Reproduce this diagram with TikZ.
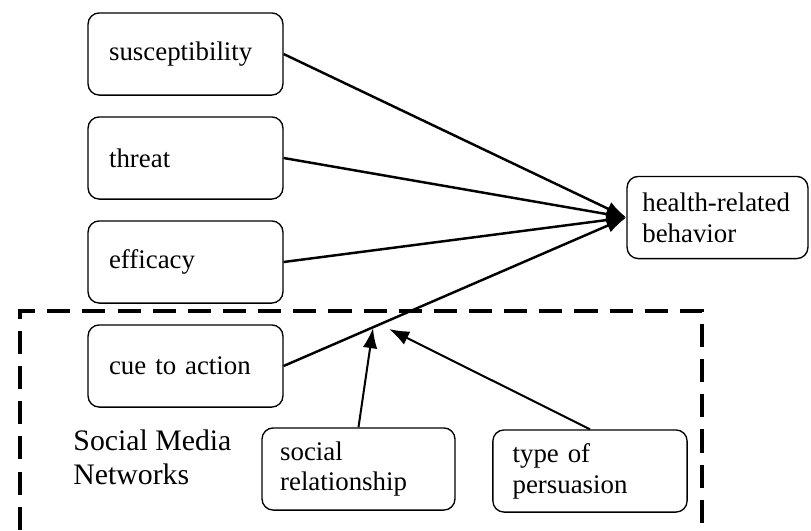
\documentclass[tikz,border=0pt]{standalone}
\usepackage{fontspec}
\setmainfont{Liberation Serif}
\usetikzlibrary{arrows.meta}

\begin{document}
\begin{tikzpicture}[x=0.0157cm,y=-0.0157cm,
box/.style={draw,rounded corners=5pt,line width=0.6pt,minimum height=1.29cm,text width=2.4cm,inner xsep=0.33cm,align=left,font=\fontsize{12}{13.8}\selectfont},
link/.style={line width=1.1pt,-{Latex[length=9pt,width=6.5pt]}}]
\clip (0,0) rectangle (811,531);

\node[box] (sus) at (185.5,54) {susceptibility};
\node[box] (thr) at (185.5,158) {threat};
\node[box] (eff) at (185.5,262) {efficacy};
\node[box] (cue) at (185.5,366) {cue to action};
\node[box,text width=2.36cm,inner xsep=0.24cm] (hrb) at (717.5,217.5) {health-related\\behavior};
\node[box,text width=2.46cm,inner xsep=0.285cm] (soc) at (358.5,469) {social\\relationship};
\node[box,text width=2.43cm,inner xsep=0.31cm] (typ) at (590,471) {type of\\persuasion};
\node[anchor=north west,align=left,inner sep=0pt,font=\fontsize{13.3}{15.4}\selectfont] (smn) at (73,429) {Social Media\\Networks};

\draw[line width=2.2pt,dash pattern=on 10.3pt off 5.4pt] (20,600)--(20,311)--(702,311)--(702,600);

\coordinate (j1) at (373,328);
\coordinate (j2) at (389,329);

\draw[link] (sus.east)--(hrb.west);
\draw[link] (thr.east)--(hrb.west);
\draw[link] (eff.east)--(hrb.west);
\draw[link] (cue.east)--(hrb.west);
\draw[link,line width=0.9pt] (soc.north)--(j1);
\draw[link,line width=0.9pt] (typ.north)--(j2);

\end{tikzpicture}
\end{document}
